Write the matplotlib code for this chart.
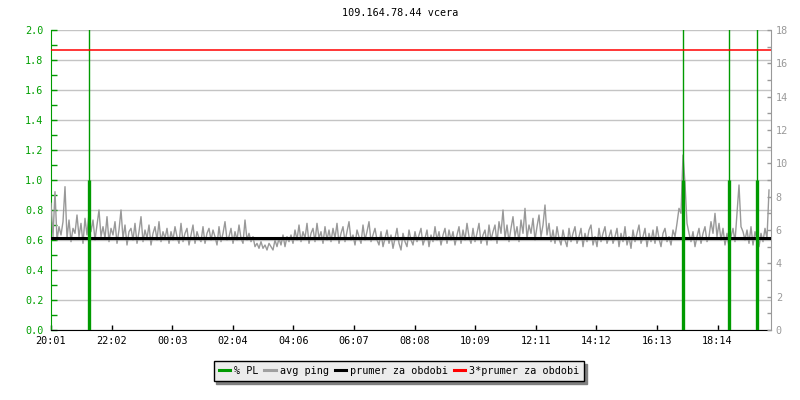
import numpy as np
import matplotlib
matplotlib.use("Agg")
import matplotlib.pyplot as plt
from matplotlib.lines import Line2D
from matplotlib.ticker import MultipleLocator

# -------------------------
# data (x in minutes from 20:01)
# -------------------------
title = "109.164.78.44 vcera"
tick_labels = ["20:01", "22:02", "00:03", "02:04", "04:06", "06:07",
               "08:08", "10:09", "12:11", "14:12", "16:13", "18:14"]
tick_step_min = 121.2
step_min = 4.0          # spacing of the avg ping samples

# avg ping [ms], one value every 4 minutes
avg_ping = [
    7.6, 5.6, 8.3, 5.4, 6.2, 5.7, 6.5, 8.6, 5.5, 6.6, 5.3, 6.1, 5.8, 6.9, 5.6, 6.4, 5.2, 6.7, 5.7, 7.0,
    5.9, 6.6, 5.4, 6.3, 7.2, 5.6, 6.2, 5.5, 6.8, 5.3, 6.1, 5.7, 6.5, 5.2, 6.0, 7.2, 5.5, 6.3, 5.1, 5.9,
    6.1, 5.4, 6.4, 5.2, 5.9, 6.8, 5.3, 6.0, 5.5, 6.3, 5.1, 5.8, 6.2, 5.4, 6.5, 5.3, 5.9, 5.5, 6.1, 5.2,
    5.9, 5.4, 6.2, 5.6, 5.2, 6.4, 5.3, 5.8, 6.1, 5.1, 5.7, 6.3, 5.2, 5.9, 5.5, 5.3, 6.2, 5.2, 5.8, 6.1,
    5.4, 6.0, 5.6, 5.1, 6.2, 5.3, 5.8, 6.5, 5.4, 5.6, 6.1, 5.2, 5.9, 5.4, 6.3, 5.5, 5.2, 6.6, 5.4, 5.8,
    5.3, 5.6, 5.0, 5.2, 4.9, 5.3, 4.9, 5.1, 4.8, 5.2, 5.0, 4.8, 5.4, 5.0, 5.5, 5.1, 5.7, 5.0, 5.6, 5.3,
    5.7, 5.2, 6.0, 5.4, 6.3, 5.3, 5.9, 5.5, 6.4, 5.2, 5.8, 6.1, 5.3, 6.4, 5.5, 5.9, 5.2, 6.2, 5.4, 6.0,
    5.3, 6.1, 5.5, 6.4, 5.2, 5.8, 6.2, 5.3, 5.9, 6.5, 5.4, 5.7, 5.1, 6.0, 5.6, 5.2, 6.3, 5.4, 5.9, 6.5,
    5.3, 5.7, 6.1, 5.4, 5.1, 5.9, 5.0, 5.5, 6.0, 5.2, 5.7, 4.9, 5.5, 6.1, 5.2, 4.8, 5.8, 5.3, 5.0, 6.0,
    5.4, 5.1, 5.9, 5.3, 5.7, 6.1, 5.1, 5.5, 6.0, 5.0, 5.7, 5.3, 6.2, 5.4, 5.9, 5.1, 5.7, 6.1, 5.2, 6.0,
    5.4, 5.9, 5.1, 5.7, 6.2, 5.2, 6.0, 5.4, 6.4, 5.6, 5.2, 6.1, 5.3, 5.8, 6.4, 5.2, 5.7, 6.0, 5.1, 6.3,
    5.4, 5.9, 6.3, 5.2, 6.5, 5.8, 7.2, 5.5, 6.3, 5.3, 6.1, 6.8, 5.6, 6.2, 5.3, 6.6, 5.8, 7.3, 5.5, 6.3,
    5.8, 6.7, 5.4, 6.2, 6.9, 5.6, 6.3, 7.5, 5.7, 6.4, 5.3, 6.0, 5.2, 6.2, 5.5, 5.1, 6.0, 5.4, 5.0, 6.1,
    5.3, 5.8, 6.2, 5.2, 5.6, 6.1, 5.0, 5.8, 5.3, 6.0, 6.3, 5.1, 5.6, 5.0, 6.1, 5.3, 5.8, 6.2, 5.2, 5.6,
    6.0, 5.2, 5.6, 6.1, 5.0, 5.8, 5.3, 6.2, 5.1, 5.6, 4.9, 6.0, 5.3, 5.8, 6.3, 5.2, 5.6, 6.1, 5.0, 5.8,
    5.3, 6.0, 5.2, 6.2, 5.5, 5.0, 5.8, 6.1, 5.3, 5.6, 5.1, 6.0, 5.6, 6.4, 7.3, 7.0, 10.5, 8.8, 6.4, 5.8,
    5.3, 5.9, 5.0, 5.6, 6.1, 5.2, 5.8, 6.2, 5.3, 5.6, 6.5, 5.8, 7.0, 5.6, 6.4, 5.4, 6.1, 5.1, 5.8, 5.0,
    5.6, 6.1, 5.3, 7.0, 8.7, 6.2, 5.9, 5.4, 6.0, 5.2, 6.2, 5.1, 5.9, 5.4, 5.0, 5.8, 5.3, 6.1, 5.5, 8.4,
]

# packet loss events: minute, % PL (left axis)
pl_times = [76, 1264, 1356, 1412]
pl_values = [1.0, 1.0, 1.0, 1.0]

mean_ping = 5.55        # prumer za obdobi [ms]
mean_ping_x3 = 16.8     # 3*prumer za obdobi [ms]

# -------------------------
# styling
# -------------------------
FONT = "DejaVu Sans Mono"
FS = 7.3
GREEN = "#009a00"
GREEN_TXT = "#00a000"
GRAY = "#999999"
GRID = "#c4c4c4"

plt.rcParams["font.family"] = FONT
plt.rcParams["font.size"] = FS

fig = plt.figure(figsize=(8, 4), dpi=100)
ax = fig.add_axes([51 / 800, 1 - 330 / 400, 720 / 800, 300 / 400])
ax2 = ax.twinx()

t = np.arange(len(avg_ping)) * step_min

# ping on the right axis
ax2.plot(t, avg_ping, color=GRAY, lw=1.0, zorder=2)
ax2.axhline(mean_ping, color="black", lw=2.2, zorder=3)
ax2.axhline(mean_ping_x3, color="#ff0000", lw=1.1, zorder=5)
ax2.set_ylim(0, 18)

# packet loss on the left axis (drawn on ax2 so it sits above the ping line)
for x in pl_times:
    ax2.axvline(x, color=GREEN, lw=1.0, zorder=4)
ax2.vlines(pl_times, 0, [v * 9 for v in pl_values], color=GREEN, lw=2.4, zorder=4)

ax.set_ylim(0, 2.0)
ax.set_xlim(0, 1440)
ax.yaxis.set_major_locator(MultipleLocator(0.2))
ax.yaxis.set_minor_locator(MultipleLocator(0.1))
ax.yaxis.set_major_formatter(plt.FormatStrFormatter("%.1f"))
ax.grid(axis="y", color=GRID, lw=1.0)
ax.set_axisbelow(True)

ax.set_xticks([k * tick_step_min for k in range(len(tick_labels))])
ax.set_xticklabels(tick_labels)

ax.tick_params(axis="y", which="both", direction="in", length=4, width=1,
               colors=GREEN, labelcolor=GREEN_TXT, pad=5.5, labelsize=FS)
ax.tick_params(axis="x", direction="in", length=3.5, width=1, color="black",
               pad=4, labelsize=FS)

ax2.yaxis.set_major_locator(MultipleLocator(2))
ax2.yaxis.set_minor_locator(MultipleLocator(1))
ax2.tick_params(axis="y", which="both", direction="in", length=3, width=1,
                colors=GRAY, labelcolor=GRAY, pad=3.5, labelsize=FS)

ax.spines["left"].set_color(GREEN)
ax.spines["bottom"].set_color("black")
ax.spines["top"].set_visible(False)
ax.spines["right"].set_visible(False)
for s in ["left", "bottom", "top"]:
    ax2.spines[s].set_visible(False)
ax2.spines["right"].set_color(GRAY)

fig.text(0.5, 1 - 13 / 400, title, ha="center", va="center", fontsize=FS)

# legend under the chart
handles = [Line2D([], [], color=GREEN, lw=2.2),
           Line2D([], [], color="#a0a0a0", lw=2.2),
           Line2D([], [], color="black", lw=2.2),
           Line2D([], [], color="#ff0000", lw=2.2)]
labels = ["% PL", "avg ping", "prumer za obdobi", "3*prumer za obdobi"]
leg = fig.legend(handles, labels, loc="center", bbox_to_anchor=(399 / 800, 1 - 371 / 400),
                 ncol=4, fancybox=False, shadow={"color": "#808080", "alpha": 1},
                 handlelength=1.1, handletextpad=0.4, columnspacing=0.6,
                 borderpad=0.5, fontsize=FS, framealpha=1)
leg.get_frame().set_facecolor("#ececec")
leg.get_frame().set_edgecolor("black")
leg.get_frame().set_linewidth(1.0)

fig.savefig("out.png", dpi=100)
